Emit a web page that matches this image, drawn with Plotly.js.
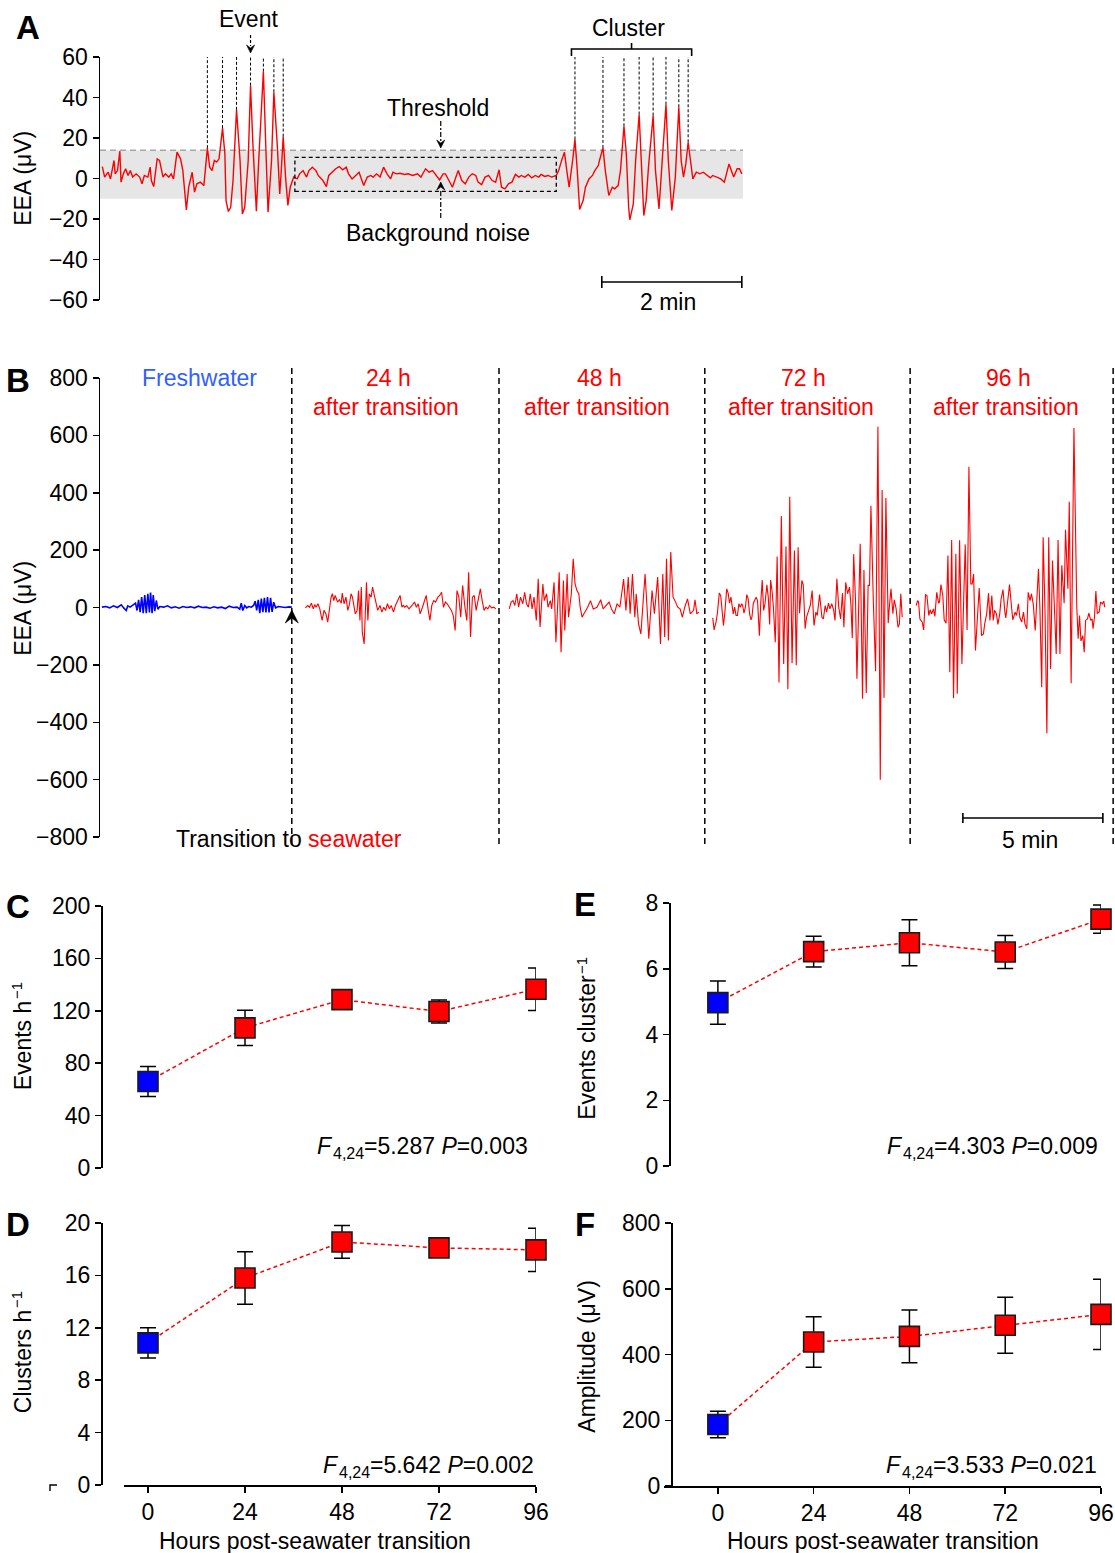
<!DOCTYPE html>
<html><head><meta charset="utf-8">
<script src="https://cdn.plot.ly/plotly-3.0.1.min.js"></script>
<style>html,body{margin:0;padding:0;background:#fff}#chart{width:1115px;height:1553px}</style>
</head><body><div id="chart"></div>
<script>
// ---------------- Panel A: example trace (time s, EEA µV) ----------------
const aTime = [2,4,5,7,9,11,12,13,15,17,18,20,22,24,26,28,31,34,36,38,41,43,44,46,49,51,54,56,59,61,63,66,69,71,74,76,79,81,83,86,89,92,94,96,98,100,102,105,107,108,110,112,114,117,120,122,124,127,129,131,134,136,140,142,144,147,149,152,154,155,157,159,161,163,166,169,171,174,177,179,182,185,187,191,194,196,200,202,205,208,211,213,216,219,222,224,226,229,232,234,237,240,243,246,249,251,254,257,261,264,268,272,275,279,282,285,288,291,294,296,299,302,305,307,310,313,316,319,322,324,327,330,333,336,339,342,344,347,350,353,356,359,361,364,367,370,373,376,378,381,384,387,391,393,396,398,400,402,405,407,409,411,414,416,419,422,424,427,428,431,433,436,439,441,444,446,449,451,453,454,457,459,462,464,466,468,470,474,476,479,481,485,487,490,493,496,498,500,502,504,506,508,511,514,517,520,523,525,529,532,535,537,539,541,543,546,548,550];
const aEEA = [5.9,0.7,1.5,3.1,-0.2,5.6,8.9,2.3,3.9,13.5,-1.8,2.3,4.8,1.5,3.9,0.7,2.3,0.7,-2.6,1.5,0.7,5.6,-1,-4,9.7,8.9,0.7,2.3,0.7,2.3,-0.2,13,9.7,3.9,-15.5,-4.3,3.1,-6.7,-2.6,-1.8,-3.5,15,5.6,3.9,8.9,8.1,9.7,24.9,12.2,-10.9,-16.3,-14.2,-1,33.9,8.9,-17.5,-14.2,8.9,45.9,17.1,-16.1,8.9,52.8,17.1,-16.6,8.9,42.6,15.5,-7.6,0.7,20.7,0.7,-13.3,-4.3,0.7,-0.2,2.3,3.9,0.7,3.9,5.6,3.9,1.5,-1,-4,1.5,3.9,4.8,5.9,4.3,5.6,2.3,-0.2,1.5,3.1,-0.2,-3.5,0.7,1.5,0.7,2.3,0.7,5.6,2.3,-0.2,3.1,2.3,2.6,2,2.3,1.5,2.3,0.7,4.8,3.1,3.9,1.5,-0.7,2.3,2.3,-1,-4.3,0.7,3.9,-1,-2.6,0.7,2.3,1.5,-1.8,-3,0.7,1.5,-1,-1.8,4.3,-4.3,-5.1,-2.6,-1.8,2,0.7,1.5,0.7,2,0.3,1.5,0.7,2,1,1.5,0.7,1.5,3.9,9.7,13,3.9,-4.3,8.9,19.3,3.9,-15.3,-10.9,-4.3,-0.2,1.5,3.9,6.4,8.9,15.1,3.9,-8.4,-4.3,-5.1,-3.5,3.9,25.8,12.2,-14.2,-20.4,-12.5,8.9,31.6,8.9,-18.3,-10.9,5.6,31.1,3.9,-15,2.3,36.5,8.9,-15.8,0.7,35.2,8.9,0.7,7.2,17.9,8.9,-0.2,3.1,2.3,3.1,1.5,0.3,1.5,0.7,-0.2,-1.8,2.3,7.2,3.9,0.7,4.8,4.8,2.3];
const aThreshold = 14;      // µV
const aNoiseFloor = -10;    // µV
const aNoiseBox = {t0:167, t1:391, v0:-6.4, v1:10.4};
const aScaleBar = {t0:430, t1:550, label:'2 min'};

// ---------------- Panel B: traces (time s, EEA µV) ----------------
const fwTime = [4.1,12.4,20.7,28.9,37.2,45.5,51.3,56.2,59.5,64.5,70.3,76.1,79.4,82.7,86.0,89.3,92.6,95.9,99.2,102.5,105.9,108.3,111.6,114.1,117.4,120.7,124.1,128.2,136.5,144.7,153,161.3,169.5,177.8,186.1,194.3,202.6,210.9,219.2,227.4,235.7,244,252.2,260.5,268.8,277,285.3,293.6,299.4,302.7,306,310.1,314.3,318.4,324.2,329.1,332.5,335.8,339.1,342.4,345.7,349,352.3,355.6,358.9,362.2,365.5,368.8,372.2,376.3,382.1,388.7,397,405.2,411];
const fwEEA = [1.2,3.5,-1.2,5.8,0,9.3,-2.3,-10.4,5.8,1.2,8.1,15.1,-10.4,26.7,-16.3,36,-19.7,43,-19.7,47.6,-17.4,52.2,-19.7,43,-12.8,24.4,-5.8,3.5,1.2,5.8,-1.2,2.3,-2.3,3.5,0,2.3,-1.2,4.6,0,1.2,-2.3,2.3,-1.2,1.2,-3.5,4.6,0,1.2,-5.8,15.1,-10.4,7,-1.2,3.5,1.2,7,22,-10.4,26.7,-19.7,31.3,-16.3,33.7,-17.4,36,-17.4,33.7,-15.1,18.6,-1.2,3.5,1.2,0,2.3,1.2];
const h24Time = [440,445,449,453,457,460,463,467,471,476,480,484,488,492,495,498,501,504,509,513,517,519,523,527,531,534,538,541,544,547,551,554,557,560,562,566,571,574,577,581,584,587,591,595,600,604,608,612,616,620,624,629,633,637,640,643,647,650,653,657,662,666,670,674,678,682,686,691,695,699,703,707,711,715,719,724,728,732,736,740,744,748,753,757,761,765,769,773,777,782,786,790,794,798,802,806,810,815,819,823,827,831,835,839,844,848];
const h24EEA = [-1,7,1,15,-5,10,1,13,-5,-45,-10,-22,-51,-10,34,48,24,42,19,27,15,50,13,36,-10,7,48,36,13,-22,-10,59,-45,71,-86,-127,88,-45,48,36,71,48,24,-10,7,-16,1,-10,13,-5,7,-16,7,19,30,42,1,7,1,7,-5,1,10,19,1,13,-22,1,24,42,-5,-45,7,24,19,36,42,53,1,19,13,1,-10,-28,-80,59,36,-34,77,1,-45,123,-103,36,42,-10,24,65,24,-10,1,-5,7,-1,1,-5];
const h48Time = [877,881,885,889,893,897,901,906,910,914,918,922,926,930,935,939,943,949,952,957,960,965,968,973,977,981,984,988,993,996,1001,1004,1010,1014,1018,1022,1026,1029,1033,1037,1045,1051,1057,1065,1073,1078,1084,1091,1096,1102,1108,1114,1122,1127,1132,1136,1141,1146,1149,1154,1159,1164,1168,1173,1176,1183,1188,1195,1201,1206,1210,1214,1218,1223,1228,1232,1238,1243,1248,1253,1259,1265,1272,1275,1279,1283];
const h48EEA = [-5,19,24,7,48,1,36,13,53,13,1,48,-5,36,-45,100,-68,82,24,48,1,24,-5,88,-121,48,123,-156,94,-80,117,-34,48,170,82,59,48,1,-34,-22,1,24,-5,1,27,-5,7,19,-5,-22,13,1,99,-10,106,-22,117,-34,48,-57,-92,24,117,-22,-109,59,-22,106,-127,117,-103,170,-115,193,36,24,1,-5,-34,1,30,-22,-10,27,-22,-16];
const h72Time = [1313,1316,1320,1323,1327,1330,1333,1336,1339,1343,1346,1349,1352,1355,1357,1360,1363,1366,1369,1372,1375,1377,1380,1383,1386,1389,1392,1395,1397,1400,1403,1406,1409,1413,1416,1419,1422,1425,1429,1432,1435,1437,1440,1443,1447,1451,1455,1460,1465,1470,1474,1478,1483,1488,1492,1496,1499,1504,1507,1511,1514,1519,1522,1526,1530,1534,1537,1542,1544,1547,1550,1554,1557,1561,1564,1568,1572,1575,1579,1583,1587,1591,1594,1598,1602,1606,1609,1612,1615,1619,1622,1629,1634,1637,1642,1646,1649,1652,1657,1662,1667,1672,1676,1680,1684,1689,1692,1695,1699,1702,1706,1710,1713,1716,1719];
const h72EEA = [-36,-78,-51,-20,50,42,-10,-63,-16,65,50,15,36,7,-22,1,-28,-28,13,1,13,7,-20,1,45,30,-22,-43,-34,15,24,36,24,-98,19,96,-10,13,79,36,-59,96,59,1,-121,178,-261,319,-197,213,-285,386,-194,199,-201,210,-20,94,79,-74,-34,-8,7,59,-63,-16,-28,45,1,-34,-40,7,-16,15,-5,13,-8,-45,100,1,-40,50,-69,88,48,71,13,-106,186,24,-248,222,-318,131,-298,77,77,355,30,-222,630,-600,410,-315,382,-55,13,65,-22,27,-5,-69,-57,48,-34];
const h96Time = [1749,1752,1754,1757,1762,1765,1769,1772,1776,1779,1782,1786,1789,1793,1797,1799,1802,1806,1809,1813,1817,1821,1825,1829,1834,1837,1842,1847,1854,1858,1862,1866,1869,1872,1876,1880,1884,1889,1893,1896,1900,1904,1907,1911,1914,1917,1921,1924,1928,1931,1935,1939,1941,1946,1949,1953,1956,1961,1964,1968,1971,1975,1979,1982,1986,1989,1993,1996,2000,2004,2007,2011,2014,2018,2021,2025,2029,2033,2037,2041,2046,2049,2053,2057,2061,2066,2069,2074,2077,2081,2087,2093,2096,2099,2102,2106,2109,2112,2116,2119,2123,2126,2128,2131,2134,2137,2141,2144,2148,2151,2153];
const h96EEA = [7,24,19,-40,-51,-78,45,42,-28,-8,-22,-5,-31,53,15,19,80,42,-43,-55,181,-226,235,-316,187,-301,234,-197,220,-78,491,82,82,117,-150,-45,68,-98,-92,-55,-22,50,-45,42,-45,-10,-22,-59,-22,30,62,-16,-36,36,80,7,-43,-16,-28,13,-34,-51,-16,-57,-74,53,24,48,10,-80,1,135,1,-278,245,-10,-438,245,-214,164,-34,-162,235,-162,147,15,271,65,369,-264,626,7,-109,-28,-117,-98,-156,-45,-40,-20,-45,-40,-74,-34,57,-20,-16,19,13,22,1];
const segmentBounds = [411,855,1296,1736,2171];
const bScaleBar = {t0:1849, t1:2149, label:'5 min'};

// ---------------- Panels C–F: summary statistics ----------------
const hours = [0,24,48,72,96];
const eventsPerHour = [66,107,128.5,119.5,136.5];
const eventsPerHourSEM = [11.5,13.5,5,8.8,16.2];
const clustersPerHour = [10.85,15.8,18.55,18.1,17.95];
const clustersPerHourSEM = [1.15,2.0,1.25,0.7,1.65];
const eventsPerCluster = [4.97,6.52,6.79,6.51,7.51];
const eventsPerClusterSEM = [0.66,0.47,0.7,0.5,0.43];
const amplitude = [187,438,455,489,522];
const amplitudeSEM = [40,77,80,85,107];
const anovaDf = '4,24';
const anovaC = {F: '5.287', P: '0.003'};
const anovaD = {F: '5.642', P: '0.002'};
const anovaE = {F: '4.303', P: '0.009'};
const anovaF = {F: '3.533', P: '0.021'};

// ---------------- helpers ----------------
const W = 1115, H = 1553;
const FONT = 'Liberation Sans, Arial, Helvetica, sans-serif';
const FS = 23, FS_SMALL = 16;
const RED = 'rgb(255,0,0)', BLUE = 'rgb(0,0,255)';
const px = x => x / W;
const py = y => 1 - y / H;
const ctx = document.createElement('canvas').getContext('2d');
function textWidth(s, size, italic) { ctx.font = (italic ? 'italic ' : '') + size + 'px "Liberation Sans", Arial, sans-serif'; return ctx.measureText(s).width; }
function txt(text, x, y, o) {
  o = o || {};
  return Object.assign({text: text, x: x, y: y, xref: 'paper', yref: 'paper', showarrow: false, borderpad: 0,
    xanchor: 'center', yanchor: 'middle', font: {family: FONT, size: o.size || FS, color: o.color || '#000'}}, o.extra || {});
}
function letter(t, x, y) { return txt('<b>' + t + '</b>', px(x), py(y), {size: 33}); }
// rotated axis title with a separate superscript, text reads bottom-to-top ending toward yTopEnd side
function vtitle(main, sup, xc, yBottom) {
  const L = textWidth(main, FS);
  annotations.push(txt(main, px(xc), py(yBottom - L / 2), {extra: {textangle: -90}}));
  if (sup) {
    const Ls = textWidth(sup, 15);
    annotations.push(txt(sup, px(xc - 6), py(yBottom - L - Ls / 2 - 1), {size: 15, extra: {textangle: -90}}));
  }
}
// ANOVA label: F (italic) + subscript df + "=value P=value"
function anova(stat, rightPx, yPx) {
  const rest = '=' + stat.F + ' P=' + stat.P;
  const wRest = textWidth(rest, FS);
  const wSub = textWidth(anovaDf, FS_SMALL);
  annotations.push(txt('=' + stat.F + ' <i>P</i>=' + stat.P, px(rightPx), py(yPx), {extra: {xanchor: 'right'}}));
  annotations.push(txt(anovaDf, px(rightPx - wRest), py(yPx + 7), {size: FS_SMALL, extra: {xanchor: 'right'}}));
  annotations.push(txt('<i>F</i>', px(rightPx - wRest - wSub), py(yPx), {extra: {xanchor: 'right'}}));
}
// notched arrowhead drawn as a path; x anchored in data units, offsets in pixels; dir=+1 points down, -1 points up
function arrowHead(xref, xData, tipPx, dir, size) {
  const w = size * 0.5, base = tipPx - dir * size, notch = tipPx - dir * size * 0.62;
  return {type: 'path', xref: xref, yref: 'paper', xsizemode: 'pixel', xanchor: xData,
    path: `M${-w},${py(base)} L0,${py(tipPx)} L${w},${py(base)} L0,${py(notch)} Z`,
    fillcolor: '#000', line: {color: '#000', width: 0.6}};
}

const yStyle = {showline: true, linecolor: '#000', linewidth: 1.5, ticks: 'outside', ticklen: 6, tickwidth: 1.5,
  tickcolor: '#000', showgrid: false, zeroline: false, tickfont: {family: FONT, size: FS, color: '#000'}, fixedrange: true};
const xHidden = {visible: false, showgrid: false, zeroline: false, fixedrange: true};

const traces = [];
const shapes = [];
const annotations = [];

// ---------------- Panel A ----------------
shapes.push({type: 'rect', xref: 'x', yref: 'y', x0: 0, x1: 551, y0: aNoiseFloor, y1: aThreshold,
  fillcolor: '#e6e6e6', line: {width: 0}, layer: 'below'});
shapes.push({type: 'line', xref: 'x', yref: 'y', x0: 0, x1: 551, y0: aThreshold, y1: aThreshold,
  line: {color: '#a6a6a6', width: 1.5, dash: '6px,4px'}, layer: 'below'});
traces.push({type: 'scatter', mode: 'lines', x: aTime, y: aEEA, xaxis: 'x', yaxis: 'y',
  line: {color: RED, width: 1.4}, hoverinfo: 'skip'});
// events = local maxima above threshold
const events = [];
for (let i = 1; i < aEEA.length - 1; i++) {
  if (aEEA[i] > aThreshold && aEEA[i] >= aEEA[i - 1] && aEEA[i] >= aEEA[i + 1]) events.push(i);
}
events.forEach(i => shapes.push({type: 'line', xref: 'x', yref: 'y', x0: aTime[i], x1: aTime[i], y0: aEEA[i], y1: 60,
  line: {color: '#000', width: 1, dash: '3px,2px'}}));
// noise box
shapes.push({type: 'rect', xref: 'x', yref: 'y', x0: aNoiseBox.t0, x1: aNoiseBox.t1, y0: aNoiseBox.v0, y1: aNoiseBox.v1,
  line: {color: '#000', width: 1.3, dash: '4px,3px'}});
// cluster bracket
const clusterEv = events.filter(i => aTime[i] > 300);
const cx0 = aTime[clusterEv[0]] - 3, cx1 = aTime[clusterEv[clusterEv.length - 1]] + 3, cxm = (cx0 + cx1) / 2;
shapes.push({type: 'path', xref: 'x', yref: 'paper',
  path: `M${cx0},${py(56)} L${cx0},${py(49)} L${cx1},${py(49)} L${cx1},${py(56)} M${cxm},${py(49)} L${cxm},${py(43)}`,
  line: {color: '#000', width: 1.6}});
annotations.push(txt('Cluster', cxm - 3, py(28), {extra: {xref: 'x'}}));
// Event label + arrow (4th event)
const evT = aTime[events[3]];
annotations.push(txt('Event', evT - 2, py(19), {extra: {xref: 'x'}}));
shapes.push({type: 'line', xref: 'x', yref: 'paper', x0: evT, x1: evT, y0: py(35), y1: py(46),
  line: {color: '#000', width: 1.2, dash: '3px,2px'}});
shapes.push(arrowHead('x', evT, 53, 1, 8));
// Threshold label + arrow
const labT = 292;
annotations.push(txt('Threshold', px(438), py(108)));
shapes.push({type: 'line', xref: 'x', yref: 'paper', x0: labT, x1: labT, y0: py(121), y1: py(141),
  line: {color: '#000', width: 1.2, dash: '5px,2px,2px,2px'}});
shapes.push(arrowHead('x', labT, 148, 1, 8));
// Background noise label + arrow
annotations.push(txt('Background noise', px(438), py(233)));
shapes.push({type: 'line', xref: 'x', yref: 'paper', x0: labT, x1: labT, y0: py(218), y1: py(189),
  line: {color: '#000', width: 1.2, dash: '5px,2px,2px,2px'}});
shapes.push(arrowHead('x', labT, 182, -1, 8));
// scale bar
shapes.push({type: 'line', xref: 'x', yref: 'paper', x0: aScaleBar.t0, x1: aScaleBar.t1, y0: py(282), y1: py(282), line: {color: '#000', width: 1.6}});
[aScaleBar.t0, aScaleBar.t1].forEach(t => shapes.push({type: 'line', xref: 'x', yref: 'paper', x0: t, x1: t, y0: py(276), y1: py(288), line: {color: '#000', width: 1.6}}));
annotations.push(txt(aScaleBar.label, (aScaleBar.t0 + aScaleBar.t1) / 2 - 3, py(302), {extra: {xref: 'x'}}));

// ---------------- Panel B ----------------
traces.push({type: 'scatter', mode: 'lines', x: fwTime, y: fwEEA, xaxis: 'x2', yaxis: 'y2', line: {color: BLUE, width: 1.6}, hoverinfo: 'skip'});
[[h24Time, h24EEA], [h48Time, h48EEA], [h72Time, h72EEA], [h96Time, h96EEA]].forEach(s =>
  traces.push({type: 'scatter', mode: 'lines', x: s[0], y: s[1], xaxis: 'x2', yaxis: 'y2', line: {color: RED, width: 1.1}, hoverinfo: 'skip'}));
segmentBounds.forEach(t => shapes.push({type: 'line', xref: 'x2', yref: 'paper', x0: t, x1: t, y0: py(368), y1: py(848),
  line: {color: '#000', width: 1.5, dash: '6px,4px'}}));
shapes.push(arrowHead('x2', segmentBounds[0], 610, -1, 13));
annotations.push(txt('Freshwater', px(199), py(378), {color: 'rgb(50,95,255)'}));
[['24 h', 386], ['48 h', 597], ['72 h', 801], ['96 h', 1006]].forEach(l => {
  annotations.push(txt(l[0], px(l[1] + 2), py(378), {color: RED}));
  annotations.push(txt('after transition', px(l[1]), py(407), {color: RED}));
});
annotations.push(txt('Transition to <span style="color:rgb(255,0,0)">seawater</span>', px(289), py(839)));
shapes.push({type: 'line', xref: 'x2', yref: 'paper', x0: bScaleBar.t0, x1: bScaleBar.t1, y0: py(818), y1: py(818), line: {color: '#000', width: 1.6}});
[bScaleBar.t0, bScaleBar.t1].forEach(t => shapes.push({type: 'line', xref: 'x2', yref: 'paper', x0: t, x1: t, y0: py(813), y1: py(823), line: {color: '#000', width: 1.6}}));
annotations.push(txt(bScaleBar.label, px(1030), py(840)));

// ---------------- Panels C–F ----------------
function summary(xa, ya, mean, sem) {
  traces.push({type: 'scatter', mode: 'lines', x: hours, y: mean, xaxis: xa, yaxis: ya,
    line: {color: RED, width: 1.5, dash: '4px,3px'}, hoverinfo: 'skip', cliponaxis: false});
  traces.push({type: 'scatter', mode: 'markers', x: hours.slice(0, 1), y: mean.slice(0, 1), xaxis: xa, yaxis: ya,
    marker: {symbol: 'square', size: 20, color: BLUE, line: {color: '#1a1a1a', width: 1.6}},
    error_y: {type: 'data', array: sem.slice(0, 1), color: '#000', thickness: 1.5, width: 8}, cliponaxis: false, hoverinfo: 'skip'});
  traces.push({type: 'scatter', mode: 'markers', x: hours.slice(1), y: mean.slice(1), xaxis: xa, yaxis: ya,
    marker: {symbol: 'square', size: 20, color: RED, line: {color: '#1a1a1a', width: 1.6}},
    error_y: {type: 'data', array: sem.slice(1), color: '#000', thickness: 1.5, width: 8}, cliponaxis: false, hoverinfo: 'skip'});
}
summary('x3', 'y3', eventsPerHour, eventsPerHourSEM);
summary('x4', 'y4', eventsPerCluster, eventsPerClusterSEM);
summary('x5', 'y5', clustersPerHour, clustersPerHourSEM);
summary('x6', 'y6', amplitude, amplitudeSEM);

anova(anovaC, 529, 1146);
anova(anovaE, 1099, 1146);
anova(anovaD, 535, 1465);
anova(anovaF, 1098, 1465);

// axis titles
vtitle('EEA (μV)', null, 23, 227);
vtitle('EEA (μV)', null, 23, 657);
vtitle('Events h', '−1', 23, 1090);
vtitle('Clusters h', '−1', 23, 1413);
vtitle('Events cluster', '−1', 587, 1120);
vtitle('Amplitude (μV)', null, 587, 1433);
annotations.push(txt('Hours post-seawater transition', px(315), py(1541)));
annotations.push(txt('Hours post-seawater transition', px(883), py(1541)));
// panel letters
annotations.push(letter('A', 28, 28));
annotations.push(letter('B', 18, 380));
annotations.push(letter('C', 18, 906));
annotations.push(letter('D', 18, 1224));
annotations.push(letter('E', 585, 904));
annotations.push(letter('F', 585, 1224));
// small corner mark in D
shapes.push({type: 'path', xref: 'paper', yref: 'paper', path: `M${px(50)},${py(1491)} L${px(50)},${py(1485)} L${px(57)},${py(1485)}`, line: {color: '#000', width: 1.4}});

const xShown = {showline: true, linecolor: '#000', linewidth: 1.5, ticks: 'outside', ticklen: 6, tickwidth: 1.5, tickcolor: '#000',
  showgrid: false, zeroline: false, tickvals: hours, tickfont: {family: FONT, size: FS, color: '#000'}, fixedrange: true};

const layout = {
  width: W, height: H, margin: {l: 0, r: 0, t: 0, b: 0}, paper_bgcolor: '#fff', plot_bgcolor: 'rgba(0,0,0,0)',
  showlegend: false, font: {family: FONT, size: FS, color: '#000'},
  xaxis: Object.assign({}, xHidden, {domain: [px(100), px(743)], range: [0, 551], anchor: 'y'}),
  yaxis: Object.assign({}, yStyle, {domain: [py(300), py(57)], range: [-60, 60], tickvals: [-60, -40, -20, 0, 20, 40, 60], anchor: 'x'}),
  xaxis2: Object.assign({}, xHidden, {domain: [px(100), 1], range: [0, 2175], anchor: 'y2'}),
  yaxis2: Object.assign({}, yStyle, {domain: [py(837), py(378)], range: [-800, 800], tickvals: [-800, -600, -400, -200, 0, 200, 400, 600, 800], anchor: 'x2'}),
  xaxis3: Object.assign({}, xHidden, {domain: [px(124), px(536)], range: [-5.94, 96], anchor: 'y3'}),
  yaxis3: Object.assign({}, yStyle, {domain: [py(1168), py(906)], range: [0, 200], tickvals: [0, 40, 80, 120, 160, 200], anchor: 'free', position: px(101)}),
  xaxis4: Object.assign({}, xHidden, {domain: [px(664), px(1101)], range: [-13.5, 96], anchor: 'y4'}),
  yaxis4: Object.assign({}, yStyle, {domain: [py(1166), py(903)], range: [0, 8], tickvals: [0, 2, 4, 6, 8], anchor: 'free', position: px(669)}),
  xaxis5: Object.assign({}, xShown, {domain: [px(124), px(536)], range: [-5.94, 96], anchor: 'y5'}),
  yaxis5: Object.assign({}, yStyle, {domain: [py(1485), py(1223)], range: [0, 20], tickvals: [0, 4, 8, 12, 16, 20], anchor: 'free', position: px(101)}),
  xaxis6: Object.assign({}, xShown, {domain: [px(664), px(1101)], range: [-13.5, 96], anchor: 'y6'}),
  yaxis6: Object.assign({}, yStyle, {domain: [py(1486), py(1223)], range: [0, 800], tickvals: [0, 200, 400, 600, 800], anchor: 'free', position: px(671)}),
  shapes: shapes, annotations: annotations
};
Plotly.newPlot('chart', traces, layout, {staticPlot: true, displayModeBar: false});
</script></body></html>
